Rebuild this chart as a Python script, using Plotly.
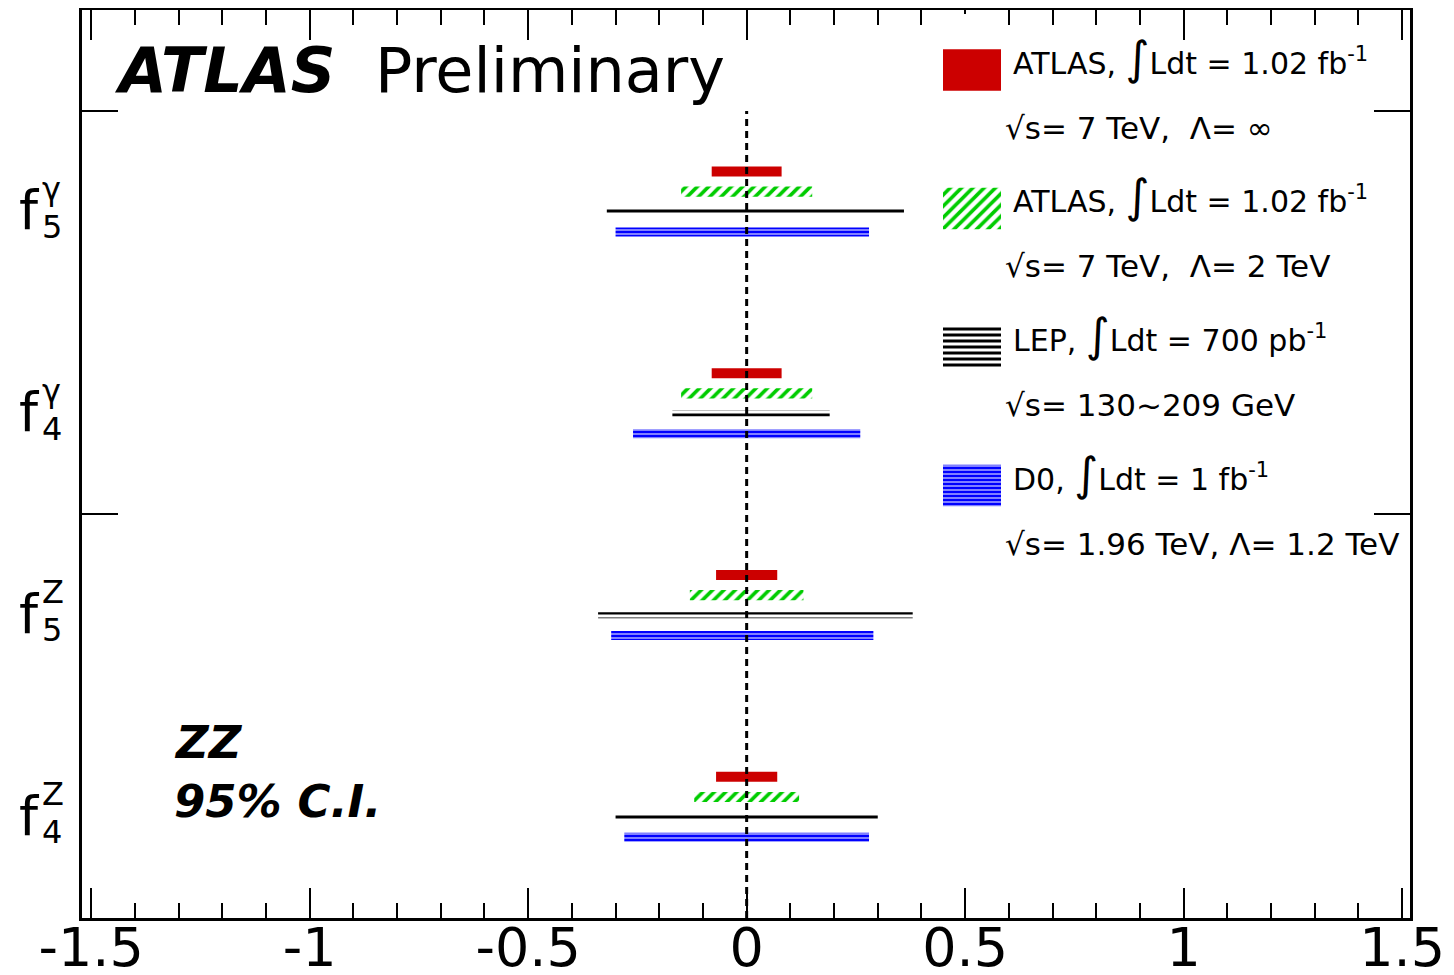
import plotly.graph_objects as go

# ---------------- data ----------------
cat_pos = [0.5, 1.5, 2.5, 3.5]          # f4Z, f5Z, f4g, f5g
label_sub = ["4", "5", "4", "5"]
label_sup = ["Z", "Z", "γ", "γ"]

atlas_inf_lo = [-0.07, -0.07, -0.08, -0.08]
atlas_inf_hi = [0.07, 0.07, 0.08, 0.08]
atlas_2tev_lo = [-0.12, -0.13, -0.15, -0.15]
atlas_2tev_hi = [0.12, 0.13, 0.15, 0.15]
lep_lo = [-0.30, -0.34, -0.17, -0.32]
lep_hi = [0.30, 0.38, 0.19, 0.36]
d0_lo = [-0.28, -0.31, -0.26, -0.30]
d0_hi = [0.28, 0.29, 0.26, 0.28]

x_tickvals = [-1.5, -1, -0.5, 0, 0.5, 1, 1.5]
x_ticktext = ["-1.5", "-1", "-0.5", "0", "0.5", "1", "1.5"]

legend_line1 = [
    "ATLAS, <span style='font-size:46px'>∫</span>Ldt = 1.02 fb<sup>-1</sup>",
    "ATLAS, <span style='font-size:46px'>∫</span>Ldt = 1.02 fb<sup>-1</sup>",
    "LEP, <span style='font-size:46px'>∫</span>Ldt = 700 pb<sup>-1</sup>",
    "D0, <span style='font-size:46px'>∫</span>Ldt = 1 fb<sup>-1</sup>",
]
legend_line2 = [
    "√s= 7 TeV,  Λ= ∞",
    "√s= 7 TeV,  Λ= 2 TeV",
    "√s= 130~209 GeV",
    "√s= 1.96 TeV, Λ= 1.2 TeV",
]

# ---------------- styles ----------------
FONT = "DejaVu Sans"
RED = "#cc0000"
GREEN = "#00cc00"
BLUE = "#0000ff"


def patt(shape, color, size, solidity):
    return dict(color=color, line=dict(width=0),
                pattern=dict(shape=shape, fgcolor=color, bgcolor="white", fillmode="replace",
                             fgopacity=1, size=size, solidity=solidity))


styles = [
    dict(lo=atlas_inf_lo, hi=atlas_inf_hi, off=0.2, w=0.05,
         marker=dict(color=RED, line=dict(width=0))),
    dict(lo=atlas_2tev_lo, hi=atlas_2tev_hi, off=0.1, w=0.05,
         marker=patt("/", GREEN, 8, 0.45)),
    dict(lo=lep_lo, hi=lep_hi, off=0.0, w=0.03,
         marker=patt("-", "black", 6, 0.5)),
    dict(lo=d0_lo, hi=d0_hi, off=-0.1, w=0.045,
         marker=patt("-", BLUE, 4, 0.75)),
]

fig = go.Figure()

for s in styles:
    fig.add_trace(go.Bar(
        orientation="h",
        y=[p + s["off"] for p in cat_pos],
        x=[h - l for l, h in zip(s["lo"], s["hi"])],
        base=s["lo"],
        width=s["w"],
        marker=s["marker"],
        showlegend=False,
        hoverinfo="skip",
    ))

# legend swatches on an auxiliary hidden axis
for i, s in enumerate(styles):
    fig.add_trace(go.Bar(
        orientation="h", y=[i], x=[1], base=[0], width=0.3,
        marker=s["marker"], xaxis="x2", yaxis="y2", showlegend=False, hoverinfo="skip",
    ))

annotations = []
for i in range(4):
    annotations.append(dict(xref="x2", yref="y2", x=1, y=i, xanchor="left", yanchor="middle",
                            xshift=10, yshift=12, text=legend_line1[i], showarrow=False,
                            font=dict(family=FONT, size=30, color="black")))
    annotations.append(dict(xref="x2", yref="y2", x=1, y=i, xanchor="left", yanchor="middle",
                            xshift=2, yshift=-58, text=legend_line2[i], showarrow=False,
                            font=dict(family=FONT, size=31, color="black")))

# y category labels f_n^V
for p, sb, sp in zip(cat_pos, label_sub, label_sup):
    annotations.append(dict(xref="paper", yref="y", x=0, y=p, xanchor="right", yanchor="middle",
                            xshift=-40, yshift=1, text="f", showarrow=False,
                            font=dict(family=FONT, size=54, color="black")))
    annotations.append(dict(xref="paper", yref="y", x=0, y=p, xanchor="left", yanchor="middle",
                            xshift=-42, yshift=23, text=sp, showarrow=False,
                            font=dict(family=FONT, size=32, color="black")))
    annotations.append(dict(xref="paper", yref="y", x=0, y=p, xanchor="left", yanchor="middle",
                            xshift=-42, yshift=-15, text=sb, showarrow=False,
                            font=dict(family=FONT, size=32, color="black")))

# ATLAS Preliminary
annotations.append(dict(xref="paper", yref="paper", x=0, y=1, xanchor="left", yanchor="middle",
                        xshift=30, yshift=-60, showarrow=False,
                        text="<b><i>ATLAS</i></b>  Preliminary",
                        font=dict(family=FONT, size=62, color="black")))
annotations.append(dict(xref="paper", yref="paper", x=0, y=0, xanchor="left", yanchor="middle",
                        xshift=90, yshift=176, showarrow=False,
                        text="<b><i>ZZ</i></b>", font=dict(family=FONT, size=45, color="black")))
annotations.append(dict(xref="paper", yref="paper", x=0, y=0, xanchor="left", yanchor="middle",
                        xshift=90, yshift=117, showarrow=False,
                        text="<b><i>95% C.I.</i></b>", font=dict(family=FONT, size=45, color="black")))

# the page adds an 8px body margin, so margins are reduced by 8 on the top/left
fig.update_layout(
    width=1454, height=975,
    margin=dict(l=74, r=52, t=2, b=65, autoexpand=False),
    paper_bgcolor="white", plot_bgcolor="white",
    barmode="overlay",
    showlegend=False,
    font=dict(family=FONT, color="black"),
    xaxis=dict(range=[-1.521, 1.518], tickvals=x_tickvals, ticktext=x_ticktext,
               ticks="inside", ticklen=30, tickwidth=2, tickcolor="black",
               ticklabelstandoff=-20,
               minor=dict(dtick=0.1, tick0=0, ticks="inside", ticklen=15, tickwidth=2,
                          tickcolor="black", showgrid=False),
               showline=True, linewidth=2.5, linecolor="black", mirror="ticks",
               showgrid=False, zeroline=False, automargin=False,
               tickfont=dict(family=FONT, size=54, color="black")),
    yaxis=dict(range=[0, 4.5], tickvals=[0, 2, 4], ticks="inside", ticklen=36, tickwidth=2,
               tickcolor="black", showticklabels=False, automargin=False,
               showline=True, linewidth=2.5, linecolor="black", mirror="ticks",
               showgrid=False, zeroline=False),
    xaxis2=dict(domain=[(943 - 82) / 1328, (1001 - 82) / 1328], range=[0, 1], visible=False,
                anchor="y2"),
    yaxis2=dict(domain=[(918 - 541.5) / 908, (918 - 14) / 908], range=[3.404, -0.404],
                visible=False, anchor="x2"),
    annotations=annotations,
    shapes=[dict(type="line", xref="x", yref="y", x0=0, x1=0, y0=0, y1=4,
                 line=dict(color="black", width=3, dash="7px,5px"), layer="above")],
)

fig.write_html("out.html")
